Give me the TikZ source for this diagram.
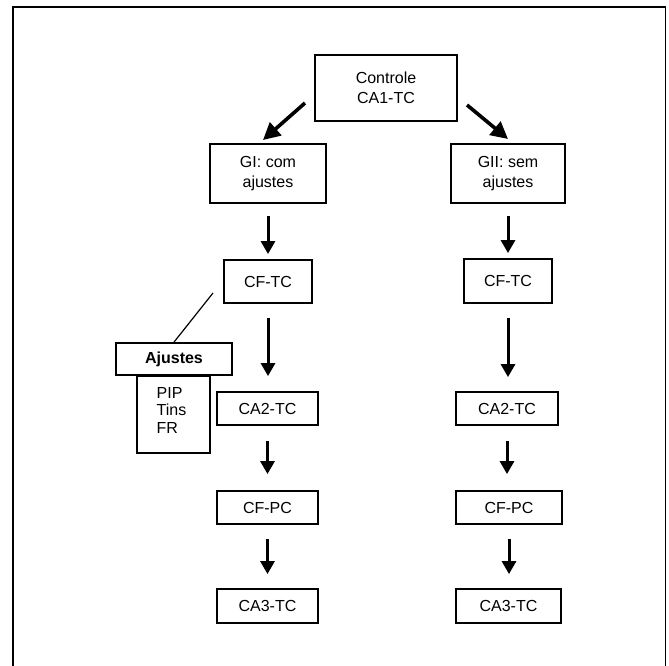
\documentclass[tikz,border=0pt]{standalone}
\usepackage{fontspec}
\setmainfont{Liberation Sans}
\usetikzlibrary{arrows.meta}
\begin{document}
\begin{tikzpicture}[x=1pt,y=-1pt,
  box/.style={draw=black,line width=1.8pt,inner sep=0pt,align=center,font=\fontsize{16}{19.5}\selectfont},
  flow/.style={line width=3pt,-{Triangle[width=14pt,length=13pt]}},
  diag/.style={line width=3.6pt,-{Triangle[width=17pt,length=17pt]}}]
\useasboundingbox (0,0) rectangle (669,666);
\draw[line width=1.5pt] (13,666) -- (13,7) -- (665.5,7) -- (665.5,666);
% nodes
\node[box,minimum width=142pt,minimum height=66pt] (ctrl) at (386,88) {Controle\\CA1-TC};
\node[box,minimum width=116pt,minimum height=59pt] (gi) at (268,173.5) {GI: com\\ajustes};
\node[box,minimum width=114pt,minimum height=59pt] (gii) at (508,173.5) {GII: sem\\ajustes};
\node[box,minimum width=88pt,minimum height=43pt] (cfa) at (268,281.5) {CF-TC};
\node[box,minimum width=88pt,minimum height=44pt] (cfb) at (508,281) {CF-TC};
\node[box,minimum width=101pt,minimum height=33pt] (caa) at (267.5,408.5) {CA2-TC};
\node[box,minimum width=102pt,minimum height=33pt] (cab) at (507,408.5) {CA2-TC};
\node[box,minimum width=101pt,minimum height=33pt] (cpa) at (267.5,507.5) {CF-PC};
\node[box,minimum width=106pt,minimum height=33pt] (cpb) at (509,507.5) {CF-PC};
\node[box,minimum width=101pt,minimum height=34pt] (c3a) at (267.5,606) {CA3-TC};
\node[box,minimum width=105pt,minimum height=34pt] (c3b) at (508.5,606) {CA3-TC};
\node[box,minimum width=116pt,minimum height=32pt,font=\fontsize{16}{19.5}\selectfont\bfseries] (aj) at (174,359) {Ajustes};
\node[box,minimum width=73pt,minimum height=77pt,anchor=north] (ajl) at (173.5,375) {};
\node[anchor=north west,inner sep=0pt,align=left,font=\fontsize{16}{17.5}\selectfont] (ajt) at (156.5,387) {PIP\\Tins\\FR};
% connectors
\coordinate (d1s) at (305,103); \coordinate (d1e) at (263,140);
\coordinate (d2s) at (467,105); \coordinate (d2e) at (508,139);
\draw[diag] (d1s) -- (d1e);
\draw[diag] (d2s) -- (d2e);
\draw[flow,shorten <=12pt,shorten >=5pt] (gi.south) -- (cfa.north);
\draw[flow,shorten <=12pt,shorten >=5pt] (gii.south) -- (cfb.north);
\draw[flow,shorten <=14pt,shorten >=15pt] (cfa.south) -- (cfa.south |- caa.north);
\draw[flow,shorten <=14pt,shorten >=14pt] (cfb.south) -- (cfb.south |- cab.north);
\draw[flow,shorten <=15pt,shorten >=16pt] (caa.south) -- (cpa.north);
\draw[flow,shorten <=15pt,shorten >=16pt] (cab.south) -- (cab.south |- cpb.north);
\draw[flow,shorten <=14pt,shorten >=14pt] (cpa.south) -- (c3a.north);
\draw[flow,shorten <=14pt,shorten >=14pt] (cpb.south) -- (cpb.south |- c3b.north);
\coordinate (ls) at (213,293);
\draw[line width=1.2pt] (ls) -- (aj.north);
\end{tikzpicture}
\end{document}
